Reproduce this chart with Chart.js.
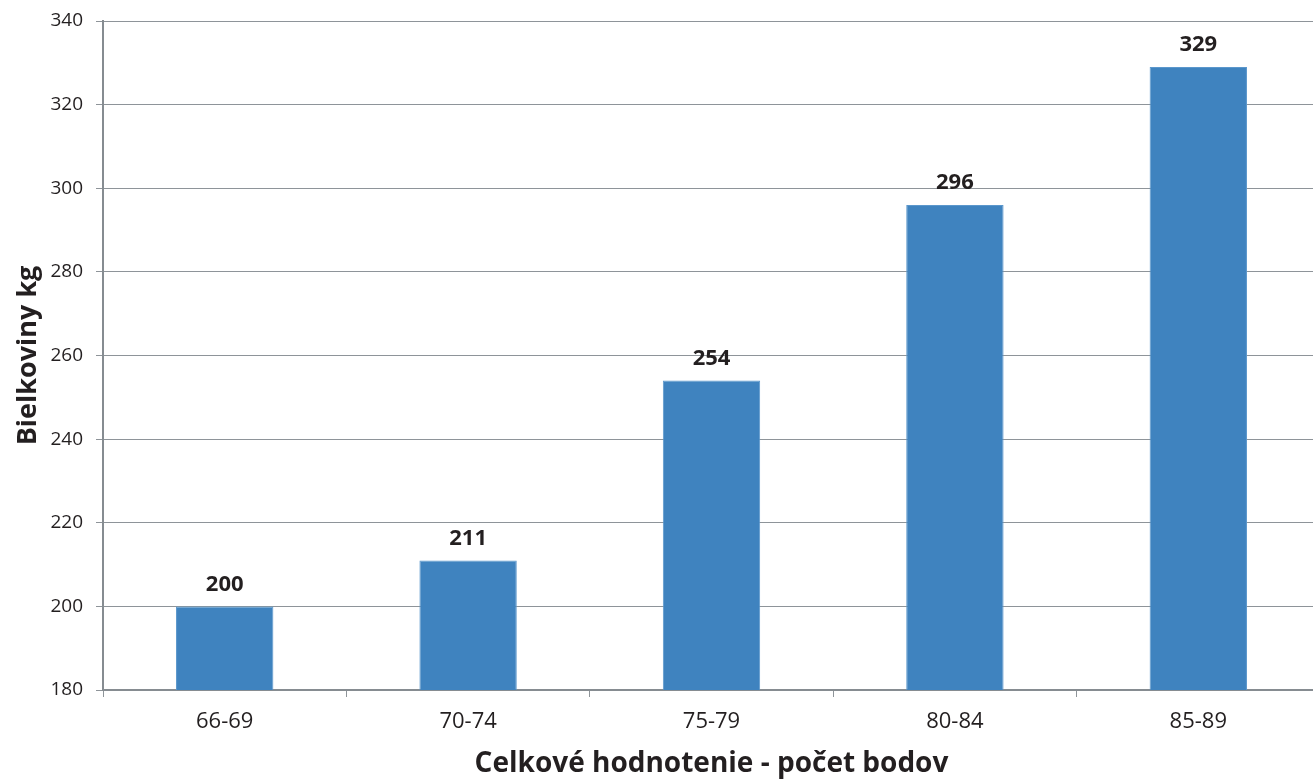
<!DOCTYPE html>
<html>
<head>
<meta charset="utf-8">
<script src="https://cdn.jsdelivr.net/npm/chart.js@4/dist/chart.umd.min.js"></script>
<style>
  html, body { margin: 0; padding: 0; background: #fff; overflow: hidden; }
  /* plot runs a few pixels past the right edge of the window */
  #wrap { width: 1320px; height: 781px; position: relative; }
</style>
</head>
<body>
<div id="wrap"><canvas id="chart"></canvas></div>
<script>
const categories = ["66-69", "70-74", "75-79", "80-84", "85-89"];
const protein = [200, 211, 254, 296, 329];
const yTicks = [180, 200, 220, 240, 260, 280, 300, 320, 340];

const FONT = "'Open Sans', 'Noto Sans', sans-serif";
const GRID = "#8e9499";

// bold value above each bar, drawn without a background so gridlines pass under
const valueLabels = {
  id: "valueLabels",
  afterDatasetsDraw(chart) {
    const ctx = chart.ctx;
    const meta = chart.getDatasetMeta(0);
    ctx.save();
    ctx.font = `bold 22px ${FONT}`;
    ctx.fillStyle = "#231f20";
    ctx.textAlign = "center";
    ctx.textBaseline = "middle";
    meta.data.forEach((bar, i) => {
      ctx.fillText(String(protein[i]), bar.x, bar.y - 22);
    });
    ctx.restore();
  }
};

new Chart(document.getElementById("chart"), {
  type: "bar",
  data: {
    labels: categories,
    datasets: [{
      data: protein,
      backgroundColor: "#3f83bf",
      borderColor: "#5b97cc",
      borderWidth: 1,
      categoryPercentage: 1,
      barPercentage: 0.4,
    }]
  },
  options: {
    responsive: true,
    maintainAspectRatio: false,
    animation: false,
    layout: { padding: { top: 21, right: 0, left: 0, bottom: 0 } },
    plugins: {
      legend: { display: false },
      tooltip: { enabled: false },
    },
    scales: {
      x: {
        grid: { drawOnChartArea: false, drawTicks: true, tickLength: 7, color: GRID, offset: true },
        border: { color: "#868c91", width: 2 },
        ticks: { color: "#231f20", font: { family: FONT, size: 22 }, padding: 12 },
        title: {
          display: true,
          text: "Celkové hodnotenie - počet bodov",
          color: "#231f20",
          font: { family: FONT, size: 28, weight: "bold" },
          padding: { top: 0, bottom: 0 },
        },
        afterFit(scale) { scale.height = 91; },
      },
      y: {
        min: 180,
        max: 340,
        afterBuildTicks(scale) { scale.ticks = yTicks.map(v => ({ value: v })); },
        grid: { color: GRID, lineWidth: 1, tickLength: 7 },
        border: { color: "#868c91", width: 2 },
        ticks: { color: "#231f20", font: { family: FONT, size: 19 }, padding: 13 },
        title: {
          display: true,
          text: "Bielkoviny kg",
          color: "#231f20",
          font: { family: FONT, size: 27, weight: "bold" },
          padding: { top: 12, bottom: 0 },
        },
        afterFit(scale) {
          scale.width = 103;
          scale.paddingTop = 0;
          scale.paddingBottom = 0;
        },
      }
    }
  },
  plugins: [valueLabels]
});
</script>
</body>
</html>
